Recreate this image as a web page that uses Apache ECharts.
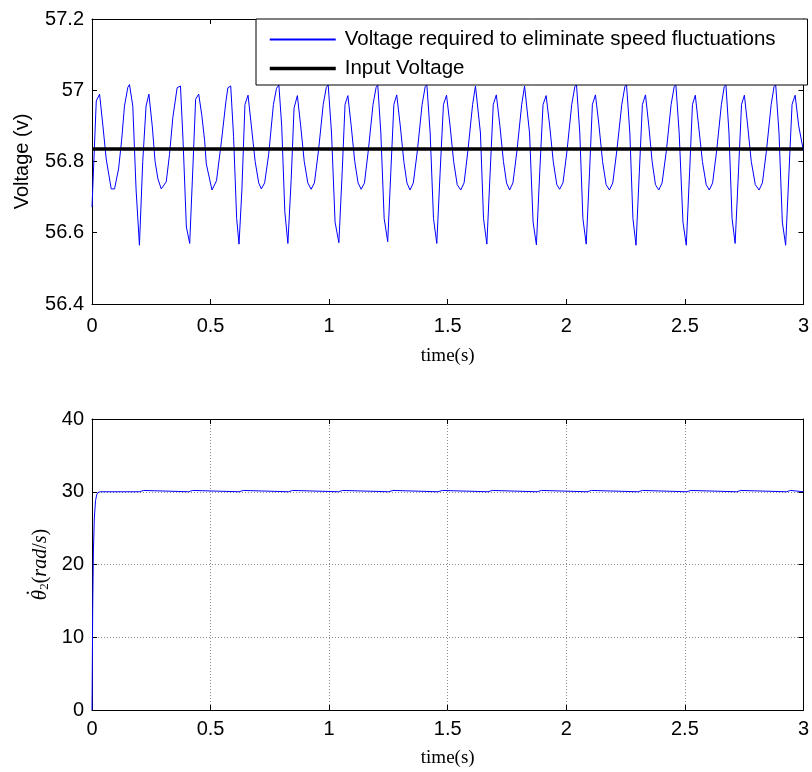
<!DOCTYPE html>
<html><head><meta charset="utf-8">
<script src="https://cdn.jsdelivr.net/npm/echarts@6/dist/echarts.min.js"></script>
<style>html,body{margin:0;padding:0;background:#fff}#c{width:812px;height:772px}</style>
</head><body><div id="c"></div><script>
// ---- data ----
const timeTicks = [0, 0.5, 1, 1.5, 2, 2.5, 3];
const voltageTicks = [56.4, 56.6, 56.8, 57, 57.2];
const speedTicks = [0, 10, 20, 30, 40];
const legendNames = ['Voltage required to eliminate speed fluctuations', 'Input Voltage'];
const inputVoltage = 56.835;
// [time (s), voltage (V)]
const voltageData = [
 [0,56.672],[0.018,56.97],[0.032,56.989],[0.046,56.9],[0.06,56.807],[0.081,56.723],[0.095,56.723],[0.112,56.779],[0.125,56.86],[0.137,56.956],
 [0.151,57.008],[0.158,57.016],[0.172,56.956],[0.186,56.72],[0.2,56.565],[0.214,56.8],[0.228,56.956],[0.24,56.989],[0.254,56.9],[0.266,56.8],[0.278,56.751],[0.292,56.723],[0.313,56.743],[0.327,56.82],[0.341,56.924],
 [0.359,57.007],[0.373,57.012],[0.384,56.858],[0.398,56.616],[0.412,56.57],[0.426,56.793],[0.437,56.975],[0.45,56.989],[0.463,56.93],[0.475,56.858],[0.482,56.793],[0.506,56.72],[0.525,56.746],[0.546,56.858],[0.565,56.97],
 [0.573,57.007],[0.585,57.012],[0.597,56.87],[0.61,56.64],[0.62,56.568],[0.632,56.72],[0.645,56.96],[0.658,56.986],[0.672,56.9],[0.688,56.8],[0.703,56.74],[0.714,56.723],[0.728,56.74],[0.745,56.82],[0.765,56.96],
 [0.778,57.005],[0.788,57.015],[0.8,56.9],[0.813,56.66],[0.826,56.57],[0.84,56.75],[0.852,56.95],[0.866,56.985],[0.88,56.9],[0.895,56.8],[0.91,56.74],[0.924,56.722],[0.938,56.74],[0.955,56.83],[0.975,56.96],
 [0.988,57.008],[0.996,57.015],[1.01,56.88],[1.025,56.63],[1.041,56.572],[1.055,56.77],[1.067,56.96],[1.079,56.985],[1.093,56.9],[1.108,56.8],[1.122,56.74],[1.135,56.722],[1.149,56.74],[1.165,56.83],[1.185,56.96],
 [1.198,57.008],[1.205,57.015],[1.218,56.88],[1.232,56.64],[1.247,56.575],[1.26,56.77],[1.273,56.96],[1.285,56.987],[1.3,56.9],[1.315,56.8],[1.328,56.74],[1.341,56.72],[1.355,56.74],[1.372,56.83],[1.392,56.96],
 [1.405,57.01],[1.412,57.016],[1.426,56.88],[1.44,56.64],[1.454,56.57],[1.468,56.77],[1.482,56.96],[1.495,56.986],[1.51,56.9],[1.525,56.8],[1.54,56.735],[1.555,56.72],[1.569,56.74],[1.585,56.83],[1.605,56.96],
 [1.617,57.012],[1.625,57.017],[1.638,56.88],[1.651,56.64],[1.665,56.568],[1.679,56.77],[1.692,56.96],[1.705,56.987],[1.72,56.9],[1.735,56.8],[1.748,56.74],[1.761,56.72],[1.775,56.74],[1.792,56.83],[1.812,56.96],
 [1.824,57.012],[1.831,57.017],[1.845,56.88],[1.86,56.63],[1.874,56.566],[1.888,56.77],[1.902,56.96],[1.915,56.985],[1.93,56.9],[1.945,56.8],[1.96,56.735],[1.972,56.722],[1.986,56.74],[2.003,56.83],[2.023,56.96],
 [2.036,57.01],[2.043,57.016],[2.057,56.88],[2.07,56.64],[2.084,56.568],[2.098,56.77],[2.11,56.96],[2.123,56.987],[2.138,56.9],[2.153,56.8],[2.168,56.735],[2.182,56.72],[2.196,56.74],[2.213,56.83],[2.234,56.96],
 [2.247,57.01],[2.254,57.016],[2.268,56.88],[2.281,56.64],[2.294,56.565],[2.308,56.77],[2.321,56.96],[2.334,56.987],[2.348,56.9],[2.362,56.8],[2.376,56.735],[2.39,56.72],[2.404,56.74],[2.422,56.83],[2.442,56.96],
 [2.455,57.01],[2.462,57.016],[2.476,56.88],[2.492,56.63],[2.506,56.565],[2.52,56.77],[2.532,56.96],[2.544,56.986],[2.558,56.9],[2.574,56.8],[2.59,56.735],[2.603,56.72],[2.617,56.74],[2.634,56.83],[2.654,56.96],
 [2.666,57.01],[2.673,57.016],[2.686,56.88],[2.699,56.64],[2.712,56.57],[2.726,56.77],[2.739,56.96],[2.751,56.986],[2.765,56.9],[2.78,56.8],[2.797,56.735],[2.813,56.72],[2.827,56.74],[2.844,56.83],[2.864,56.96],
 [2.876,57.01],[2.883,57.016],[2.897,56.88],[2.911,56.63],[2.925,56.565],[2.939,56.77],[2.952,56.96],[2.965,56.986],[2.98,56.9],[3.0,56.83]
];
const inputVoltageData = [[0, inputVoltage], [3, inputVoltage]];
// [time (s), angular speed (rad/s)]
const speedData = [
 [0,0],[0.003,14],[0.006,22],[0.01,26.5],[0.015,28.8],[0.02,29.6],[0.025,29.9],[0.035,30],
 [0.2,30],[0.206,30.18],[0.218,30.18],[0.224,30],
 [0.407,30],[0.413,30.18],[0.425,30.18],[0.431,30],
 [0.62,30],[0.626,30.18],[0.638,30.18],[0.644,30],
 [0.828,30],[0.834,30.18],[0.846,30.18],[0.852,30],
 [1.039,30],[1.045,30.18],[1.057,30.18],[1.063,30],
 [1.251,30],[1.257,30.18],[1.269,30.18],[1.275,30],
 [1.459,30],[1.465,30.18],[1.477,30.18],[1.483,30],
 [1.67,30],[1.676,30.18],[1.688,30.18],[1.694,30],
 [1.877,30],[1.883,30.18],[1.895,30.18],[1.901,30],
 [2.088,30],[2.094,30.18],[2.106,30.18],[2.112,30],
 [2.303,30],[2.309,30.18],[2.321,30.18],[2.327,30],
 [2.508,30],[2.514,30.18],[2.526,30.18],[2.532,30],
 [2.718,30],[2.724,30.18],[2.736,30.18],[2.742,30],
 [2.928,30],[2.934,30.18],[2.946,30.18],[2.952,30],
 [3,30]
];

// ---- chart ----
const SANS = '"Liberation Sans", Arial, sans-serif';
const SERIF = '"Liberation Serif", "DejaVu Serif", serif';
const black = '#000';
const blue = '#0000ff';
function mainX(gi, extra) {
  return Object.assign({
    gridIndex: gi, type: 'value', min: timeTicks[0], max: timeTicks[timeTicks.length-1], interval: timeTicks[1]-timeTicks[0],
    position: 'bottom',
    axisLine: {show: true, onZero: false, lineStyle: {color: black, width: 1}},
    axisTick: {show: true, inside: true, length: 5, lineStyle: {color: black}},
    axisLabel: {color: black, fontSize: 20, fontFamily: SANS, margin: 9},
    splitLine: {show: false},
    name: 'time(s)', nameLocation: 'middle',
    nameTextStyle: {color: black, fontSize: 19, fontFamily: SERIF}
  }, extra);
}
function mirrorX(gi) {
  return {gridIndex: gi, type: 'value', min: timeTicks[0], max: timeTicks[timeTicks.length-1], interval: timeTicks[1]-timeTicks[0],
    position: 'top',
    axisLine: {show: true, onZero: false, lineStyle: {color: black, width: 1}},
    axisTick: {show: true, inside: true, length: 5, lineStyle: {color: black}},
    axisLabel: {show: false}, splitLine: {show: false}};
}
function mirrorY(gi, ticks) {
  return {gridIndex: gi, type: 'value', min: ticks[0], max: ticks[ticks.length-1], interval: ticks[1]-ticks[0],
    position: 'right',
    axisLine: {show: true, onZero: false, lineStyle: {color: black, width: 1}},
    axisTick: {show: true, inside: true, length: 5, lineStyle: {color: black}},
    axisLabel: {show: false}, splitLine: {show: false}};
}
const gridLine = {show: true, showMinLine: false, showMaxLine: false, lineStyle: {color: '#8a8a8a', type: [1, 2], width: 1}};

const chart = echarts.init(document.getElementById('c'), null, {renderer: 'canvas'});
chart.setOption({
  animation: false,
  backgroundColor: '#fff',
  grid: [
    {left: 92, top: 19, width: 713, height: 285},
    {left: 92, top: 419, width: 713, height: 291}
  ],
  legend: {
    data: [
      legendNames[0],
      {name: legendNames[1], lineStyle: {width: 3.5}}
    ],
    orient: 'vertical', left: 256, top: 19,
    backgroundColor: '#fff', borderColor: black, borderWidth: 1, borderRadius: 0,
    padding: [10, 32, 6, 12], itemWidth: 66, itemHeight: 20, itemGap: 8,
    selectedMode: false,
    itemStyle: {opacity: 0, borderWidth: 0},
    textStyle: {color: black, fontSize: 20.5, fontFamily: SANS, padding: [0, 0, 0, 4]}
  },
  xAxis: [
    mainX(0, {nameGap: 43, axisLabel: {color: black, fontSize: 20, fontFamily: SANS, margin: 12}}),
    mirrorX(0),
    mainX(1, {nameGap: 39, splitLine: gridLine}),
    mirrorX(1)
  ],
  yAxis: [
    {gridIndex: 0, type: 'value', min: voltageTicks[0], max: voltageTicks[voltageTicks.length-1], interval: 0.2,
     position: 'left',
     axisLine: {show: true, onZero: false, lineStyle: {color: black, width: 1}},
     axisTick: {show: true, inside: true, length: 5, lineStyle: {color: black}},
     axisLabel: {color: black, fontSize: 20, fontFamily: SANS, margin: 8, formatter: v => String(Math.round(v*10)/10)},
     splitLine: {show: false},
     name: 'Voltage (v)', nameLocation: 'middle', nameGap: 60,
     nameTextStyle: {color: black, fontSize: 20, fontFamily: SANS}},
    mirrorY(0, voltageTicks),
    {gridIndex: 1, type: 'value', min: speedTicks[0], max: speedTicks[speedTicks.length-1], interval: 10,
     position: 'left',
     axisLine: {show: true, onZero: false, lineStyle: {color: black, width: 1}},
     axisTick: {show: true, inside: true, length: 5, lineStyle: {color: black}},
     axisLabel: {color: black, fontSize: 20, fontFamily: SANS, margin: 8},
     splitLine: gridLine,
     name: '{d|.}\n{t|\u03B8}{s|2}{p|(}{i|rad}{p|/}{i|s}{p|)}', nameLocation: 'middle', nameGap: 35,
     nameTextStyle: {color: black, rich: {
       d: {fontSize: 20, fontFamily: SERIF, color: black, lineHeight: 13, align: 'left', padding: [0, 0, 0, 5]},
       t: {fontSize: 21, fontStyle: 'italic', fontFamily: SERIF, color: black, align: 'left'},
       s: {fontSize: 13, fontFamily: SERIF, color: black, verticalAlign: 'bottom', padding: [6, 0, 0, 0], align: 'left'},
       p: {fontSize: 20, fontFamily: SERIF, color: black, align: 'left'},
       i: {fontSize: 20, fontStyle: 'italic', fontFamily: SERIF, color: black, align: 'left'}
     }}},
    mirrorY(1, speedTicks)
  ],
  series: [
    {type: 'line', name: legendNames[0], xAxisIndex: 0, yAxisIndex: 0, data: voltageData,
     symbol: 'none', lineStyle: {color: blue, width: 1}, itemStyle: {color: blue}, z: 2},
    {type: 'line', name: legendNames[1], xAxisIndex: 0, yAxisIndex: 0, data: inputVoltageData,
     symbol: 'none', lineStyle: {color: black, width: 3.5}, itemStyle: {color: black}, z: 3},
    {type: 'line', name: 'speed', xAxisIndex: 2, yAxisIndex: 2, data: speedData,
     symbol: 'none', lineStyle: {color: blue, width: 1}, itemStyle: {color: blue}, z: 2}
  ]
});
</script></body></html>
